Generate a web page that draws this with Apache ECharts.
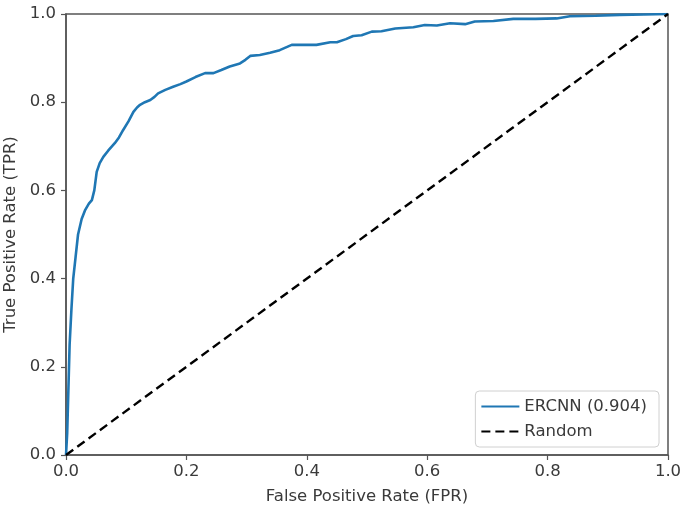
<!DOCTYPE html>
<html>
<head>
<meta charset="utf-8">
<script src="https://cdn.jsdelivr.net/npm/echarts@6/dist/echarts.min.js"></script>
<style>html,body{margin:0;padding:0;background:#fff;}#c{width:685px;height:509px;}</style>
</head>
<body>
<div id="c"></div>
<script>
const fpr = [0, 0.002, 0.004, 0.006, 0.009, 0.012, 0.016, 0.020, 0.026, 0.032,
  0.038, 0.043, 0.047, 0.051, 0.056, 0.062, 0.070, 0.081, 0.088, 0.095,
  0.104, 0.112, 0.118, 0.123, 0.131, 0.140, 0.147, 0.153, 0.165, 0.178,
  0.190, 0.200, 0.215, 0.231, 0.245, 0.258, 0.272, 0.289, 0.298, 0.306,
  0.322, 0.339, 0.355, 0.375, 0.395, 0.416, 0.439, 0.450, 0.465, 0.477,
  0.491, 0.508, 0.524, 0.547, 0.577, 0.596, 0.616, 0.638, 0.663, 0.679,
  0.710, 0.743, 0.780, 0.815, 0.837, 0.880, 0.920, 0.960, 1.0];
const tpr = [0, 0.05, 0.15, 0.25, 0.33, 0.40, 0.45, 0.50, 0.535, 0.556,
  0.570, 0.578, 0.600, 0.642, 0.662, 0.676, 0.690, 0.707, 0.720, 0.737,
  0.757, 0.778, 0.788, 0.794, 0.800, 0.805, 0.812, 0.820, 0.828, 0.835,
  0.841, 0.847, 0.857, 0.866, 0.866, 0.873, 0.881, 0.888, 0.896, 0.905,
  0.907, 0.912, 0.918, 0.930, 0.930, 0.930, 0.936, 0.936, 0.943, 0.950,
  0.952, 0.960, 0.961, 0.967, 0.970, 0.975, 0.974, 0.979, 0.977, 0.983,
  0.984, 0.989, 0.989, 0.990, 0.995, 0.996, 0.998, 0.999, 1.0];
const randomX = [0, 1];
const randomY = [0, 1];
const seriesNames = ['ERCNN (0.904)', 'Random'];
const xTitle = 'False Positive Rate (FPR)';
const yTitle = 'True Positive Rate (TPR)';

const font = 'DejaVu Sans';
const txt = '#3a3a3a';
const axisCol = '#555';
const fs = 16.5;

const chart = echarts.init(document.getElementById('c'), null, {renderer: 'canvas'});
const axisCommon = {
  type: 'value', min: 0, max: 1, interval: 0.2,
  axisLine: {show: true, lineStyle: {color: axisCol, width: 1.5}},
  axisTick: {show: true, inside: false, length: 5, lineStyle: {color: axisCol, width: 1.2}},
  splitLine: {show: false},
  axisLabel: {color: txt, fontFamily: font, fontSize: fs, formatter: v => v.toFixed(1)},
  nameLocation: 'middle',
  nameTextStyle: {color: txt, fontFamily: font, fontSize: fs}
};
chart.setOption({
  animation: false,
  backgroundColor: '#fff',
  grid: {left: 66, right: 17, top: 14, bottom: 54, show: true, borderColor: axisCol, borderWidth: 1.5,
         containLabel: false, outerBoundsMode: 'none'},
  xAxis: Object.assign({}, axisCommon, {name: xTitle, nameGap: 33,
    axisLabel: Object.assign({}, axisCommon.axisLabel, {margin: 8})}),
  yAxis: Object.assign({}, axisCommon, {name: yTitle, nameGap: 43,
    axisLabel: Object.assign({}, axisCommon.axisLabel, {margin: 10})}),
  legend: {
    orient: 'vertical', right: 26, bottom: 62,
    data: seriesNames,
    itemWidth: 38, itemHeight: 14, itemGap: 8,
    padding: [7, 12, 7, 5],
    borderColor: '#d0d0d0', borderWidth: 1, borderRadius: 4,
    backgroundColor: 'rgba(255,255,255,0.8)',
    itemStyle: {opacity: 0},
    textStyle: {color: txt, fontFamily: font, fontSize: fs}
  },
  series: [
    {name: seriesNames[0], type: 'line', symbol: 'none', showSymbol: false,
     data: fpr.map((x, i) => [x, tpr[i]]),
     lineStyle: {color: '#1f77b4', width: 2.6}, itemStyle: {color: '#1f77b4'}, z: 2},
    {name: seriesNames[1], type: 'line', symbol: 'none', showSymbol: false,
     data: randomX.map((x, i) => [x, randomY[i]]),
     lineStyle: {color: '#000', width: 2.4, type: [9, 5]}, itemStyle: {color: '#000'}, z: 3}
  ]
});
</script>
</body>
</html>
